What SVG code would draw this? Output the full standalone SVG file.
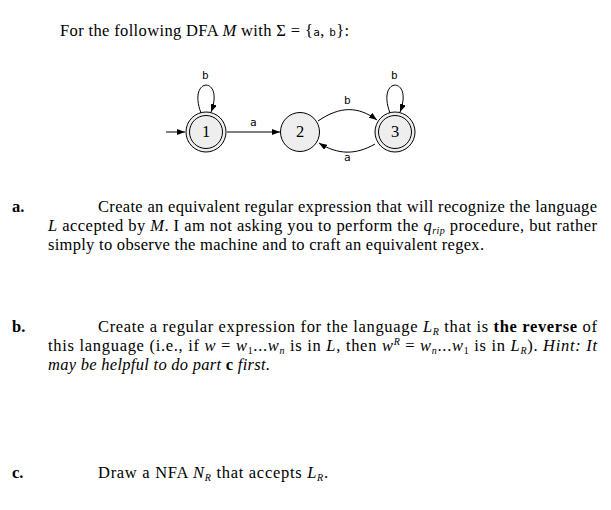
<svg xmlns="http://www.w3.org/2000/svg" width="611" height="510" viewBox="0 0 611 510">
<style>
.t{font-family:"Liberation Serif",serif;font-size:16.5px;fill:#000}
.m{font-family:"DejaVu Sans Mono","Liberation Mono",monospace;font-size:11px;fill:#000}
.n{fill:#eee;stroke:#000;stroke-width:1}
.e{fill:none;stroke:#000;stroke-width:1;marker-end:url(#a)}
</style>
<defs><marker id="a" viewBox="0 0 8 6" refX="8" refY="3" markerWidth="8" markerHeight="6" orient="auto"><path d="M0,0L8,3L0,6z" fill="#000"/></marker></defs>
<rect width="611" height="510" fill="#fff"/>
<text class="t" x="60" y="36" textLength="289" lengthAdjust="spacing">For the following DFA <tspan font-style="italic">M</tspan> with Σ = {<tspan class="m">a</tspan>, <tspan class="m">b</tspan>}:</text>
<g id="connectors">
<path class="e" d="M166,132H185"/>
<path class="e" d="M201,113C187,76 225,76 211,112"/>
<path class="e" d="M227,132H280"/>
<path class="e" d="M318,121C340,106 358,106 377,120"/>
<path class="e" d="M375,144C356,155 338,155 319,143"/>
<path class="e" d="M390,113C376,76 414,76 400,112"/>
<text class="m" x="202" y="79">b</text>
<text class="m" x="250" y="126">a</text>
<text class="m" x="344" y="104">b</text>
<text class="m" x="344" y="161">a</text>
<text class="m" x="391" y="79">b</text>
</g>
<g id="n1"><circle class="n" cx="206" cy="132" r="20"/><circle cx="206" cy="132" r="16.5" fill="none" stroke="#000"/><text class="t" x="206" y="137" text-anchor="middle" font-size="13">1</text></g>
<g id="n2"><circle class="n" cx="300" cy="132" r="19.5"/><text class="t" x="300" y="137" text-anchor="middle" font-size="13">2</text></g>
<g id="n3"><circle class="n" cx="395" cy="132" r="20"/><circle cx="395" cy="132" r="16.5" fill="none" stroke="#000"/><text class="t" x="395" y="137" text-anchor="middle" font-size="13">3</text></g>
<text class="t" x="12" y="212" font-weight="bold">a.</text>
<text class="t" x="98" y="212" textLength="499" lengthAdjust="spacing">Create an equivalent regular expression that will recognize the language</text>
<text class="t" x="48" y="231" textLength="549" lengthAdjust="spacing"><tspan font-style="italic">L</tspan> accepted by <tspan font-style="italic">M</tspan>. I am not asking you to perform the <tspan font-style="italic">q<tspan font-size="10" dy="3">rip</tspan></tspan><tspan dy="-3"> procedure, but rather</tspan></text>
<text class="t" x="48" y="250" textLength="436" lengthAdjust="spacing">simply to observe the machine and to craft an equivalent regex.</text>
<text class="t" x="12" y="332" font-weight="bold">b.</text>
<text class="t" x="98" y="332" textLength="499" lengthAdjust="spacing">Create a regular expression for the language <tspan font-style="italic">L<tspan font-size="10" dy="3">R</tspan></tspan><tspan dy="-3"> that is </tspan><tspan font-weight="bold">the reverse</tspan> of</text>
<text class="t" x="48" y="351" textLength="549" lengthAdjust="spacing">this language (i.e., if <tspan font-style="italic">w</tspan> = <tspan font-style="italic">w</tspan><tspan font-size="10" dy="3">1</tspan><tspan dy="-3">...</tspan><tspan font-style="italic">w<tspan font-size="10" dy="3">n</tspan></tspan><tspan dy="-3"> is in </tspan><tspan font-style="italic">L</tspan>, then <tspan font-style="italic">w<tspan font-size="10" dy="-6">R</tspan></tspan><tspan dy="6"> = </tspan><tspan font-style="italic">w<tspan font-size="10" dy="3">n</tspan></tspan><tspan dy="-3">...</tspan><tspan font-style="italic">w</tspan><tspan font-size="10" dy="3">1</tspan><tspan dy="-3"> is in </tspan><tspan font-style="italic">L<tspan font-size="10" dy="3">R</tspan></tspan><tspan dy="-3">). </tspan><tspan font-style="italic">Hint: It</tspan></text>
<text class="t" x="48" y="370" font-style="italic" textLength="222" lengthAdjust="spacing">may be helpful to do part <tspan font-weight="bold" font-style="normal">c</tspan> first.</text>
<text class="t" x="12" y="478" font-weight="bold">c.</text>
<text class="t" x="98" y="478" textLength="230" lengthAdjust="spacing">Draw a NFA <tspan font-style="italic">N<tspan font-size="10" dy="3">R</tspan></tspan><tspan dy="-3"> that accepts </tspan><tspan font-style="italic">L<tspan font-size="10" dy="3">R</tspan></tspan><tspan dy="-3">.</tspan></text>
</svg>
